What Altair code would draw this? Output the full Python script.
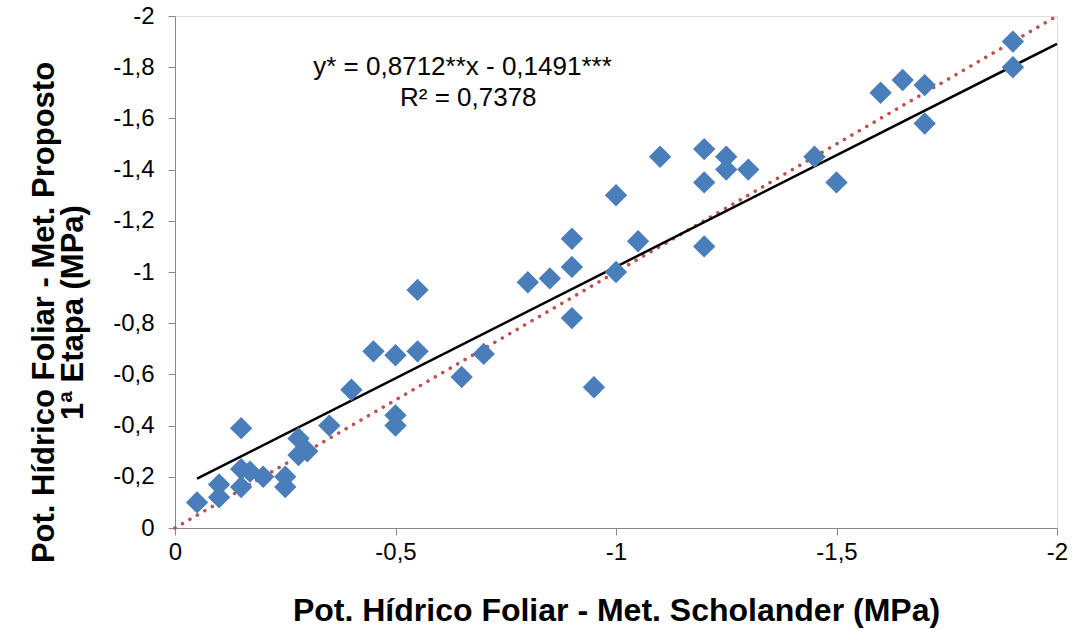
import altair as alt
import pandas as pd

# Measured data (MPa)
x_scholander = [-0.05, -0.10, -0.10, -0.15, -0.15, -0.15, -0.17, -0.20, -0.25, -0.25,
                -0.28, -0.28, -0.30, -0.35, -0.40, -0.45, -0.50, -0.55, -0.55, -0.50,
                -0.50, -0.65, -0.70, -0.80, -0.85, -0.90, -0.90, -0.90, -0.95, -1.00,
                -1.00, -1.05, -1.10, -1.20, -1.20, -1.20, -1.25, -1.25, -1.30, -1.45,
                -1.50, -1.60, -1.65, -1.70, -1.70, -1.90, -1.90]
y_proposto = [-0.10, -0.17, -0.12, -0.39, -0.23, -0.16, -0.22, -0.20, -0.20, -0.16,
              -0.35, -0.285, -0.30, -0.40, -0.54, -0.69, -0.675, -0.69, -0.93, -0.44,
              -0.40, -0.59, -0.68, -0.96, -0.975, -1.02, -0.82, -1.13, -0.55, -1.00,
              -1.30, -1.12, -1.45, -1.48, -1.35, -1.10, -1.45, -1.40, -1.40, -1.45,
              -1.35, -1.70, -1.75, -1.73, -1.58, -1.90, -1.80]

# Regression (as printed on the chart): y = 0.8712x - 0.1491
slope = 0.8712
intercept = -0.1491
fit_x = [-0.05, -2.0]

# 1:1 reference line
ref_x = [0.0, -2.0]

x_ticks = [0, -0.5, -1, -1.5, -2]
y_ticks = [0, -0.2, -0.4, -0.6, -0.8, -1, -1.2, -1.4, -1.6, -1.8, -2]

eq_lines = ["y* = 0,8712**x - 0,1491***", "R² = 0,7378"]
eq_x = [-0.652, -0.665]
eq_y = [-1.80, -1.68]

pts = pd.DataFrame({"x": x_scholander, "y": y_proposto})
fit = pd.DataFrame({"x": fit_x, "y": [slope * v + intercept for v in fit_x]})
ref = pd.DataFrame({"x": ref_x, "y": ref_x})
eq = pd.DataFrame({"x": eq_x, "y": eq_y, "t": eq_lines})

label_expr = "replace(toString(datum.value), '.', ',')"
FONT = "Liberation Sans"

xs = alt.Scale(domain=[0, -2], nice=False, zero=False)
ys = alt.Scale(domain=[0, -2], nice=False, zero=False)

x_axis = alt.Axis(values=x_ticks, labelExpr=label_expr, grid=False,
                  title="Pot. Hídrico Foliar - Met. Scholander (MPa)",
                  titleFont=FONT, titleFontSize=32, titleFontWeight="bold", titleColor="#000000",
                  labelFont=FONT, labelFontSize=24, labelColor="#000000", labelPadding=5,
                  titlePadding=31, domainColor="#888888", tickColor="#888888", tickSize=7,
                  labelFlush=False)
y_axis = alt.Axis(values=y_ticks, labelExpr=label_expr, grid=False,
                  title=["Pot. Hídrico Foliar - Met. Proposto", "1ª Etapa (MPa)"],
                  titleFont=FONT, titleFontSize=31, titleFontWeight="bold", titleColor="#000000",
                  titleLineHeight=29, titleAngle=270, titleAlign="center",
                  titleBaseline="alphabetic", titleX=-122, titleY=296,
                  labelFont=FONT, labelFontSize=24, labelColor="#000000", labelPadding=14,
                  domainColor="#888888", tickColor="#888888", tickSize=7,
                  labelFlush=False)

ref_line = alt.Chart(ref).mark_line(color="#C0504D", strokeWidth=3.5, strokeDash=[0.1, 8.5],
                                    strokeCap="round").encode(
    x=alt.X("x:Q", scale=xs, axis=x_axis),
    y=alt.Y("y:Q", scale=ys, axis=y_axis),
)

fit_line = alt.Chart(fit).mark_line(color="#000000", strokeWidth=2.5).encode(
    x=alt.X("x:Q", scale=xs), y=alt.Y("y:Q", scale=ys))

points = alt.Chart(pts).mark_point(shape="diamond", filled=True, size=500, opacity=1,
                                   color="#4A7EBB").encode(
    x=alt.X("x:Q", scale=xs), y=alt.Y("y:Q", scale=ys))

text = alt.Chart(eq).mark_text(font=FONT, fontSize=26, color="#000000").encode(
    x=alt.X("x:Q", scale=xs), y=alt.Y("y:Q", scale=ys), text="t:N")

chart = alt.layer(ref_line, fit_line, points, text).properties(
    width=882, height=512,
    autosize=alt.AutoSizeParams(type="none"),
    padding={"left": 175, "top": 16, "right": 16, "bottom": 102},
).configure_view(stroke=None).configure(background="white")

chart.save("out.html", embed_options={"renderer": "svg", "actions": False})
